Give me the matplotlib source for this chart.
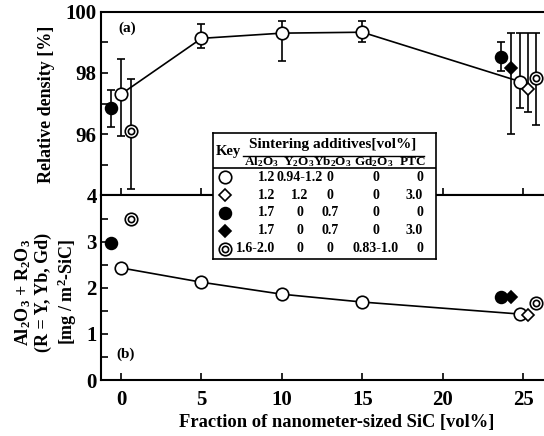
import numpy as np
import matplotlib.pyplot as plt

plt.rcParams['font.family'] = ['Liberation Serif', 'DejaVu Serif']
plt.rcParams['font.weight'] = 'bold'
plt.rcParams['mathtext.fontset'] = 'custom'
plt.rcParams['mathtext.rm'] = 'Liberation Serif:bold'
plt.rcParams['mathtext.default'] = 'rm'

# --- data ---
# open circles: Al2O3 + Y2O3
x_oc = [0, 5, 10, 15, 24.8]
rd_oc = [97.31, 99.13, 99.30, 99.33, 97.72]
rd_oc_lo = [95.95, 98.83, 98.40, 99.00, 96.85]
rd_oc_hi = [98.47, 99.59, 99.71, 99.69, 99.32]
am_oc = [2.43, 2.12, 1.86, 1.69, 1.43]

# open diamonds: Al2O3 + Y2O3 + PTC
x_od = [25.3]
rd_od = [97.47]
rd_od_lo = [96.74]
rd_od_hi = [99.32]
am_od = [1.41]

# filled circles: Al2O3 + Yb2O3
x_fc = [-0.64, 23.65]
rd_fc = [96.85, 98.53]
rd_fc_lo = [96.23, 98.05]
rd_fc_hi = [97.43, 99.00]
am_fc = [2.97, 1.80]

# filled diamonds: Al2O3 + Yb2O3 + PTC
x_fd = [24.25]
rd_fd = [98.16]
rd_fd_lo = [96.00]
rd_fd_hi = [99.32]
am_fd = [1.81]

# double circles: Al2O3 + Gd2O3
x_dc = [0.6, 25.8]
rd_dc = [96.12, 97.85]
rd_dc_lo = [94.21, 96.31]
rd_dc_hi = [97.81, 99.32]
am_dc = [3.49, 1.68]

# key table
col_heads = [r'Al$_2$O$_3$', r'Y$_2$O$_3$', r'Yb$_2$O$_3$', r'Gd$_2$O$_3$', 'PTC']
al2o3 = ['1.2', '1.2', '1.7', '1.7', '1.6-2.0']
y2o3 = ['0.94-1.2', '1.2', '0', '0', '0']
yb2o3 = ['0', '0', '0.7', '0.7', '0']
gd2o3 = ['0', '0', '0', '0', '0.83-1.0']
ptc = ['0', '3.0', '0', '3.0', '0']

W, H = 544, 436
fig = plt.figure(figsize=(W/100, H/100), dpi=100)
ax1 = fig.add_axes([101/W, 1-195.5/H, 443/W, 183.8/H])
ax2 = fig.add_axes([101/W, 1-380/H, 443/W, 184.5/H])

lw = 1.2
styles = {
    'oc': dict(marker='o', ms=9, mfc='white', mec='k', mew=lw),
    'od': dict(marker='D', ms=6.5, mfc='white', mec='k', mew=lw),
    'fc': dict(marker='o', ms=8.5, mfc='k', mec='k', mew=lw),
    'fd': dict(marker='D', ms=6.5, mfc='k', mec='k', mew=lw),
    'dc': dict(marker='o', ms=9, mfc='white', mec='k', mew=lw),
}


def draw_marker(ax, x, y, key, z=4):
    ax.plot(x, y, ls='none', zorder=z, clip_on=False, **styles[key])
    if key == 'dc':
        ax.plot(x, y, ls='none', marker='o', ms=4.5, mfc='white', mec='k',
                mew=lw, zorder=z + 0.1, clip_on=False)


def err(ax, x, y, lo, hi):
    y = np.array(y)
    yerr = [y - np.array(lo), np.array(hi) - y]
    ax.errorbar(x, y, yerr=yerr, fmt='none', ecolor='k', elinewidth=lw,
                capsize=3, capthick=lw, zorder=2)


# (a) relative density
ax1.plot(x_oc, rd_oc, color='k', lw=lw, zorder=1)
err(ax1, x_oc, rd_oc, rd_oc_lo, rd_oc_hi)
err(ax1, x_od, rd_od, rd_od_lo, rd_od_hi)
err(ax1, x_fc, rd_fc, rd_fc_lo, rd_fc_hi)
err(ax1, x_fd, rd_fd, rd_fd_lo, rd_fd_hi)
err(ax1, x_dc, rd_dc, rd_dc_lo, rd_dc_hi)
draw_marker(ax1, x_fc, rd_fc, 'fc')
draw_marker(ax1, x_fd, rd_fd, 'fd')
draw_marker(ax1, x_oc, rd_oc, 'oc')
draw_marker(ax1, x_od, rd_od, 'od')
draw_marker(ax1, x_dc, rd_dc, 'dc')

# (b) amount of additives per SiC surface
ax2.plot(x_oc, am_oc, color='k', lw=lw, zorder=1)
draw_marker(ax2, x_fc, am_fc, 'fc')
draw_marker(ax2, x_fd, am_fd, 'fd')
draw_marker(ax2, x_oc, am_oc, 'oc')
draw_marker(ax2, x_od, am_od, 'od')
draw_marker(ax2, x_dc, am_dc, 'dc')

for ax in (ax1, ax2):
    ax.set_xlim(-1.25, 26.3)
    ax.set_xticks(np.arange(0, 26, 5))
    ax.spines['right'].set_visible(False)
    for s in ax.spines.values():
        s.set_linewidth(1.5)
    ax.tick_params(direction='in', length=5, width=1.2, labelsize=15)
    ax.tick_params(axis='y', pad=3)
    ax.tick_params(axis='x', pad=7)

ax1.set_ylim(94, 100)
ax1.set_yticks(np.arange(94, 100.5, 1),
               ['', '', '96', '', '98', '', '100'])
ax1.tick_params(axis='x', labelbottom=False)
ax2.set_ylim(0, 4)
ax2.set_yticks(np.arange(0, 4.01, 0.5),
               ['0', '', '1', '', '2', '', '3', '', '4'])

ax1.text(0.4, 99.45, '(a)', fontsize=11, ha='center', va='center')
ax2.text(0.3, 0.55, '(b)', fontsize=11, ha='center', va='center')

fig.text(47/W, 1-104/H, 'Relative density [%]', rotation=90,
         ha='center', va='center', fontsize=13)
fig.text(46/W, 1-292/H,
         'Al$_2$O$_3$ + R$_2$O$_3$\n(R = Y, Yb, Gd)\n[mg / m$^2$-SiC]',
         rotation=90, ha='center', va='center', fontsize=13,
         linespacing=1.15, multialignment='center')
fig.text(337/W, 1-422/H, 'Fraction of nanometer-sized SiC [vol%]',
         ha='center', va='center', fontsize=13.3)

# key table
tab = fig.add_axes([213/W, 1-259/H, 223/W, 126/H], zorder=5)
tab.set_xlim(213, 436)
tab.set_ylim(259, 133)
tab.set_xticks([])
tab.set_yticks([])
for s in tab.spines.values():
    s.set_linewidth(1.2)

fs = 10
tab.text(228, 151, 'Key', ha='center', va='center', fontsize=10.5)
tab.text(333, 144, 'Sintering additives[vol%]', ha='center', va='center', fontsize=11)
tab.plot([243, 424], [156, 156], color='k', lw=1)
head_x = [261.5, 299, 332.5, 373.5, 413]
for hx, h in zip(head_x, col_heads):
    tab.text(hx, 162, h, ha='center', va='center', fontsize=9.5)
tab.axhline(168.3, color='k', lw=1.2)

row_y = [177.3, 195, 212.7, 230.5, 248.7]
keys = ['oc', 'od', 'fc', 'fd', 'dc']
for i, ry in enumerate(row_y):
    draw_marker(tab, [225], [ry], keys[i])
    tab.text(275, ry, al2o3[i], ha='right', va='center', fontsize=fs)
    tab.text(300, ry, y2o3[i], ha='center', va='center', fontsize=fs)
    tab.text(330, ry, yb2o3[i], ha='center', va='center', fontsize=fs)
    tab.text(376, ry, gd2o3[i], ha='center', va='center', fontsize=fs)
    tab.text(423, ry, ptc[i], ha='right', va='center', fontsize=fs)

fig.savefig('out.png', dpi=100)
